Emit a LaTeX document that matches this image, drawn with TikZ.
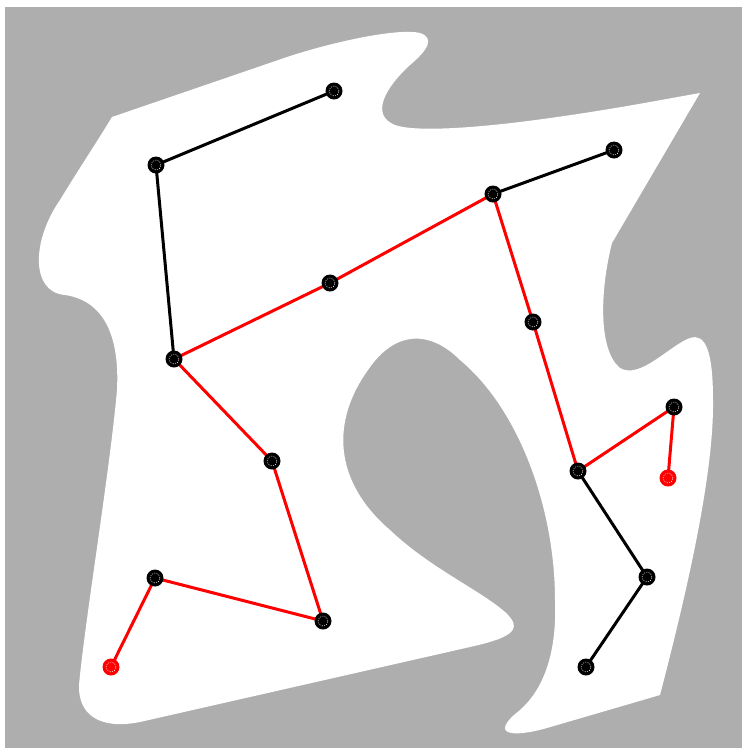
\documentclass[tikz,border=0pt]{standalone}
\definecolor{mapgray}{RGB}{174,174,174}
\definecolor{pathred}{RGB}{255,0,0}
\pgfdeclarelayer{base}
\pgfdeclarelayer{edges}
\pgfsetlayers{base,edges,main}
\tikzset{
  vtx/.style={circle, fill=black, minimum size=17pt, inner sep=0pt,
    path picture={\draw[white, line width=0.4pt, dash pattern=on 1.2pt off 1.2pt] (path picture bounding box.center) circle (5pt);}},
  goal/.style={vtx, fill=pathred},
  tree/.style={black, line width=3pt},
  route/.style={pathred, line width=3pt},
}
\begin{document}
\begin{tikzpicture}[x=1pt, y=-1pt]
\useasboundingbox (0,0) rectangle (742,748);
\begin{pgfonlayer}{base}
\fill[mapgray] (5,7) rectangle (742,748);
\fill[white] (112,117) -- (290,56)
  .. controls (340,40) and (400,28) .. (420,33)
  .. controls (435,38) and (428,50) .. (410,65)
  .. controls (385,88) and (370,115) .. (395,125)
  .. controls (415,132) and (470,128) .. (520,122)
  .. controls (600,112) and (660,100) .. (700,93)
  -- (612,243)
  .. controls (600,290) and (598,350) .. (620,368)
  .. controls (640,380) and (670,345) .. (690,338)
  .. controls (705,333) and (713,350) .. (713,400)
  .. controls (714,470) and (690,580) .. (660,695)
  -- (547,728)
  .. controls (512,738) and (488,735) .. (520,710)
  .. controls (545,688) and (557,650) .. (555,600)
  .. controls (555,510) and (520,410) .. (460,360)
  .. controls (430,330) and (395,330) .. (368,370)
  .. controls (332,420) and (332,480) .. (390,530)
  .. controls (430,568) and (480,590) .. (505,612)
  .. controls (525,630) and (510,638) .. (470,647)
  -- (140,722)
  .. controls (100,730) and (78,715) .. (79,685)
  .. controls (85,620) and (110,470) .. (117,390)
  .. controls (120,330) and (100,300) .. (65,295)
  .. controls (30,292) and (32,240) .. (60,200)
  .. controls (75,175) and (95,145) .. (112,117)
  -- cycle;
\end{pgfonlayer}
\node[vtx] (n1) at (334,91) {};
\node[vtx] (n2) at (156,165) {};
\node[vtx] (n3) at (614,150) {};
\node[vtx] (n4) at (493,194) {};
\node[vtx] (n5) at (330,283) {};
\node[vtx] (n6) at (533,322) {};
\node[vtx] (n7) at (174,359) {};
\node[vtx] (n8) at (674,407) {};
\node[vtx] (n9) at (272,461) {};
\node[goal] (n10) at (668,478) {};
\node[vtx] (n11) at (578,471) {};
\node[vtx] (n12) at (647,577) {};
\node[vtx] (n13) at (155,578) {};
\node[vtx] (n14) at (323,621) {};
\node[goal] (n15) at (111,667) {};
\node[vtx] (n16) at (586,667) {};
\begin{pgfonlayer}{edges}
\draw[tree] (n1.center) -- (n2.center);
\draw[tree] (n2.center) -- (n7.center);
\draw[tree] (n4.center) -- (n3.center);
\draw[tree] (n11.center) -- (n12.center);
\draw[tree] (n12.center) -- (n16.center);
\draw[route] (n7.center) -- (n5.center);
\draw[route] (n5.center) -- (n4.center);
\draw[route] (n4.center) -- (n6.center);
\draw[route] (n6.center) -- (n11.center);
\draw[route] (n11.center) -- (n8.center);
\draw[route] (n8.center) -- (n10.center);
\draw[route] (n7.center) -- (n9.center);
\draw[route] (n9.center) -- (n14.center);
\draw[route] (n14.center) -- (n13.center);
\draw[route] (n13.center) -- (n15.center);
\end{pgfonlayer}
\end{tikzpicture}
\end{document}
